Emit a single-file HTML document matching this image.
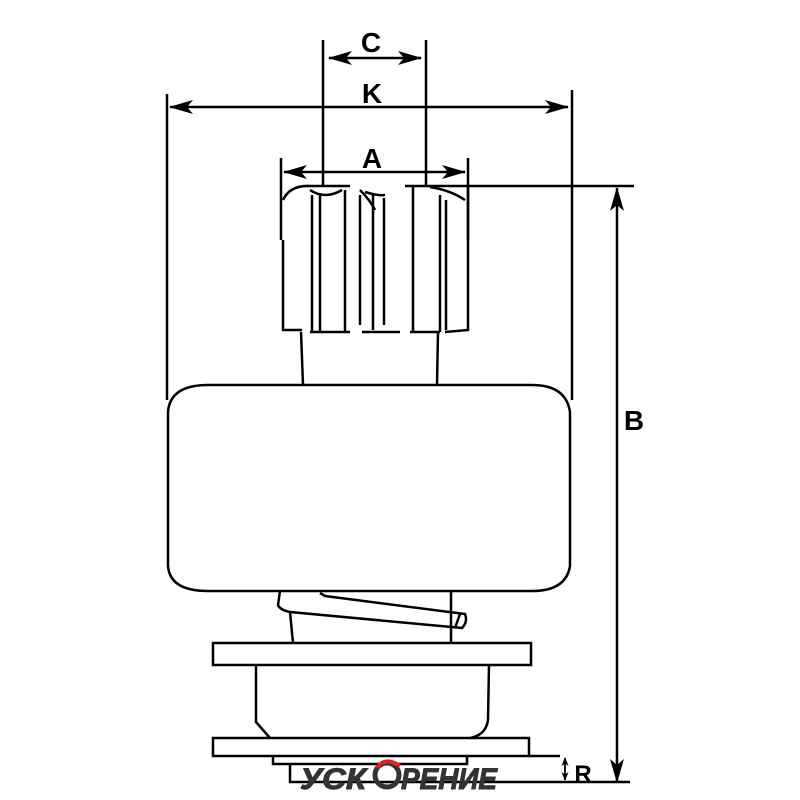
<!DOCTYPE html>
<html><head><meta charset="utf-8"><style>html,body{margin:0;padding:0;background:#fff}svg{display:block}</style></head><body>
<svg width="800" height="800" viewBox="0 0 800 800" xmlns="http://www.w3.org/2000/svg">
<defs>
<marker id="ah" viewBox="0 0 24 14" refX="23" refY="7" markerWidth="24" markerHeight="14" markerUnits="userSpaceOnUse" orient="auto-start-reverse">
<path d="M0,0 L24,7 L0,14 L6,7 Z" fill="#000"/></marker>
<marker id="ahs" viewBox="0 0 10 8" refX="9" refY="4" markerWidth="9" markerHeight="8" markerUnits="userSpaceOnUse" orient="auto-start-reverse">
<path d="M0,0 L10,4 L0,8 L3,4 Z" fill="#000"/></marker>
</defs>
<g fill="none" stroke="#000" stroke-width="2.5">
<line x1="323" y1="40" x2="323" y2="186"/>
<line x1="426" y1="40" x2="426" y2="186"/>
<line x1="167" y1="94" x2="167" y2="400"/>
<line x1="572" y1="90" x2="572" y2="400"/>
<line x1="281" y1="158" x2="281" y2="240"/>
<line x1="468" y1="158" x2="468" y2="240"/>
<line x1="405" y1="186" x2="634" y2="186"/>
<line x1="329" y1="58" x2="421" y2="58" marker-start="url(#ah)" marker-end="url(#ah)"/>
<line x1="170" y1="107" x2="568" y2="107" marker-start="url(#ah)" marker-end="url(#ah)"/>
<line x1="284" y1="172" x2="465" y2="172" marker-start="url(#ah)" marker-end="url(#ah)"/>
<line x1="617" y1="188" x2="617" y2="782" marker-start="url(#ah)" marker-end="url(#ah)"/>
<line x1="565" y1="758" x2="565" y2="780" marker-start="url(#ahs)" marker-end="url(#ahs)" stroke-width="1.8"/>
<path d="M283,240 L283,330 L302,330"/>
<path d="M468,186 L468,330 L445,332"/>
<path d="M283,200 Q290,185 310,186 L350,186"/>
<path d="M312,195 L312,332 M320,193 L320,332 M345,190 L345,332"/>
<path d="M360,195 L360,325 M373,195 L373,330 M384,198 L384,325"/>
<path d="M413,186 L413,332 M440,195 L440,332 M446,200 L446,330"/>
<path d="M310,332 L350,332 M362,332 L400,332 M410,332 L440,332"/>
<path d="M310,190 Q325,200 342,190 M360,190 Q370,200 375,210 M365,192 Q378,196 385,195 M430,187 Q450,190 465,200"/>
<path d="M301,332 L303,385 M438,332 L437,385"/>
<path d="M208,385 L532,385 Q566,385 570,412 L570,566 Q566,591 532,591 L208,591 Q170,591 168,566 L168,412 Q170,385 208,385 Z"/>
<path d="M280,591 L278,605 Q280,610 290,612 L293,643"/>
<path d="M451,591 L451,643"/>
<path d="M290,612 L462,628 Q468,622 465,614 L325,596 L320,593"/>
<path d="M460,614 L455,628"/>
<rect x="213" y="643" width="318" height="22"/>
<path d="M256,665 L256,722 L270,738 M489,665 L488,720 Q486,735 470,738"/>
<rect x="213" y="738" width="316" height="18"/>
<path d="M529,756 L560,756"/>
<path d="M273,756 L273,764 L467,764 L467,756"/>
<path d="M290,764 L290,782 L630,782"/>
</g>
<g font-family="'Liberation Sans',sans-serif" font-weight="bold" font-size="28" text-anchor="middle" fill="#000">
<text x="371" y="52">C</text>
<text x="372" y="103">K</text>
<text x="372" y="168">A</text>
<text x="634" y="430">B</text>
<text x="583" y="782" font-size="24">R</text>
</g>
<g font-family="'Liberation Sans',sans-serif" font-weight="bold" font-style="italic" font-size="30" fill="#333" stroke="#333" stroke-width="1">
<text x="300" y="789" textLength="66" lengthAdjust="spacingAndGlyphs">УСК</text>
<text x="401" y="789" textLength="96" lengthAdjust="spacingAndGlyphs">РЕНИЕ</text>
</g>
<circle cx="387" cy="775" r="12" fill="none" stroke="#333" stroke-width="5"/>
<path d="M377,768 Q385,756 400,766" fill="none" stroke="#d22" stroke-width="4"/>
</svg>
</body></html>
